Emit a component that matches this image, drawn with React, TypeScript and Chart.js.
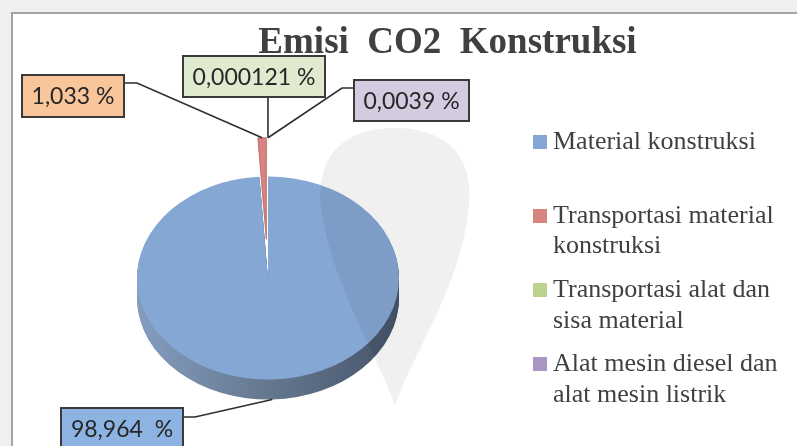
import React, { useEffect, useRef } from "react";
import { Chart, registerables } from "chart.js";

Chart.register(...registerables);

// ---------- data ----------
const categories = [
  "Material konstruksi",
  "Transportasi material konstruksi",
  "Transportasi alat dan sisa material",
  "Alat mesin diesel dan alat mesin listrik",
];
const legendLines = [
  ["Material konstruksi"],
  ["Transportasi material", "konstruksi"],
  ["Transportasi alat dan", "sisa material"],
  ["Alat mesin diesel dan", "alat mesin listrik"],
];
const values = [98.964, 1.033, 0.000121, 0.0039];
const titleText = "Emisi  CO2  Konstruksi";

// ---------- styles ----------
const sliceColors = ["#85a7d4", "#d7837f", "#bcd28f", "#a896c4"];
const sliceBorders = ["#85a7d4", "#b86a67", "#bcd28f", "#a896c4"];
const sliceBorderWidths = [0, 1, 0, 0];
const labelFills = ["#8db3e2", "#f9c59a", "#e0eacf", "#d3cce0"];
const explode = [0, 50, 50, 50];

const fmt = (v: number, i: number) =>
  String(v).replace(".", ",") + (i === 0 ? "  %" : " %");

const W = 797;
const H = 446;
const CX = 268;
const CY = 278;
const R = 131;
const TILT = 0.775;
const DEPTH = 20;

const labelBoxes = [
  { x: 61, y: 408, w: 122, h: 42 },
  { x: 22, y: 75, w: 102, h: 42 },
  { x: 183, y: 56, w: 142, h: 41 },
  { x: 354, y: 80, w: 115, h: 41 },
];
const leaderStart: (number[] | null)[] = [[183, 417], [124, 83], null, [354, 88]];
const leaderElbow: (number[] | null)[] = [[195, 417], [137, 83], null, [342, 88]];

function tilt(ctx: CanvasRenderingContext2D, x: number, y: number) {
  ctx.translate(x, y);
  ctx.scale(1, TILT);
  ctx.translate(-x, -y);
}

function anchorOf(chart: any, i: number) {
  const els: any[] = chart.getDatasetMeta(0).data;
  const el = els[i];
  const cy = els[0].y;
  const mid = (el.startAngle + el.endAngle) / 2;
  const ax = el.x + Math.cos(mid) * el.outerRadius;
  const uy = el.y + Math.sin(mid) * el.outerRadius;
  let ay = cy + (uy - cy) * TILT;
  if (Math.sin(mid) > 0) ay += DEPTH;
  return [ax, ay];
}

const pie3d = {
  id: "pie3d",
  afterDatasetsUpdate(chart: any) {
    const els: any[] = chart.getDatasetMeta(0).data;
    els.forEach((el, i) => {
      if (!explode[i]) return;
      const mid = (el.startAngle + el.endAngle) / 2;
      el.x += Math.cos(mid) * explode[i];
      el.y += Math.sin(mid) * explode[i];
    });
  },
  beforeDraw(chart: any) {
    const ctx: CanvasRenderingContext2D = chart.ctx;
    ctx.save();
    ctx.fillStyle = "#efefef";
    ctx.fillRect(0, 0, W, H);
    ctx.fillStyle = "#ffffff";
    ctx.fillRect(12, 13, W, H);
    ctx.strokeStyle = "#a3a3a3";
    ctx.lineWidth = 2;
    ctx.beginPath();
    ctx.moveTo(12, H + 5);
    ctx.lineTo(12, 13);
    ctx.lineTo(W + 5, 13);
    ctx.stroke();
    ctx.restore();
  },
  beforeDatasetsDraw(chart: any) {
    // side wall of the tilted pie (main slice)
    const ctx: CanvasRenderingContext2D = chart.ctx;
    const els: any[] = chart.getDatasetMeta(0).data;
    const el = els[0];
    const x0 = el.x;
    const y0 = el.y;
    const r0 = el.outerRadius;
    const grad = ctx.createLinearGradient(x0 - r0, 0, x0 + r0, 0);
    grad.addColorStop(0, "#849dc0");
    grad.addColorStop(0.45, "#687b93");
    grad.addColorStop(1, "#46546a");
    for (let dy = DEPTH; dy >= 1; dy--) {
      ctx.save();
      ctx.translate(0, dy);
      tilt(ctx, x0, y0);
      const o = el.options;
      el.options = Object.assign({}, o, { backgroundColor: grad, borderWidth: 0 });
      el.draw(ctx);
      el.options = o;
      ctx.restore();
    }
  },
  beforeDatasetDraw(chart: any) {
    const els: any[] = chart.getDatasetMeta(0).data;
    chart.ctx.save();
    tilt(chart.ctx, els[0].x, els[0].y);
  },
  afterDatasetDraw(chart: any) {
    chart.ctx.restore();
  },
  afterDatasetsDraw(chart: any) {
    // faint watermark drop
    const ctx: CanvasRenderingContext2D = chart.ctx;
    ctx.save();
    ctx.fillStyle = "rgba(0,0,0,0.06)";
    ctx.beginPath();
    ctx.moveTo(395, 405);
    ctx.bezierCurveTo(375, 350, 335, 290, 322, 215);
    ctx.bezierCurveTo(312, 150, 350, 128, 395, 128);
    ctx.bezierCurveTo(440, 128, 478, 150, 468, 215);
    ctx.bezierCurveTo(458, 290, 415, 350, 395, 405);
    ctx.closePath();
    ctx.fill();
    ctx.restore();
  },
  afterDraw(chart: any) {
    const ctx: CanvasRenderingContext2D = chart.ctx;
    ctx.save();
    // title
    ctx.fillStyle = "#404040";
    ctx.font = "bold 37px 'Liberation Serif', 'Times New Roman', serif";
    ctx.textAlign = "center";
    ctx.textBaseline = "alphabetic";
    ctx.fillText(titleText, 447.5, 53);

    // legend
    const baselines = [[149], [223, 253], [297, 328], [371, 402]];
    ctx.font = "26px 'Liberation Serif', 'Times New Roman', serif";
    ctx.textAlign = "left";
    categories.forEach((_c, i) => {
      const b = baselines[i];
      ctx.fillStyle = sliceColors[i];
      ctx.fillRect(533, b[0] - 14, 14, 14);
      ctx.fillStyle = "#404040";
      legendLines[i].forEach((ln, j) => ctx.fillText(ln, 553, b[j]));
    });

    // data labels with leader lines
    ctx.strokeStyle = "#2e2e2e";
    ctx.lineWidth = 1.6;
    values.forEach((_v, i) => {
      const [ax, ay] = anchorOf(chart, i);
      const bx = labelBoxes[i];
      ctx.beginPath();
      const s = leaderStart[i];
      const e = leaderElbow[i];
      if (s && e) {
        ctx.moveTo(s[0], s[1]);
        ctx.lineTo(e[0], e[1]);
      } else {
        ctx.moveTo(ax, bx.y + bx.h);
      }
      ctx.lineTo(ax, ay);
      ctx.stroke();
    });
    values.forEach((v, i) => {
      const bx = labelBoxes[i];
      ctx.fillStyle = labelFills[i];
      ctx.fillRect(bx.x, bx.y, bx.w, bx.h);
      ctx.strokeStyle = "#3a3a3a";
      ctx.lineWidth = 2;
      ctx.strokeRect(bx.x, bx.y, bx.w, bx.h);
      ctx.fillStyle = "#262626";
      ctx.font = "23px Lato, 'Open Sans', sans-serif";
      ctx.textAlign = "center";
      ctx.textBaseline = "middle";
      ctx.fillText(fmt(v, i), bx.x + bx.w / 2, bx.y + bx.h / 2 + 1);
    });
    ctx.restore();
  },
};

export default function App() {
  const ref = useRef<HTMLCanvasElement | null>(null);
  useEffect(() => {
    document.body.style.margin = "0";
    const canvas = ref.current!;
    const chart = new Chart(canvas, {
      type: "pie",
      data: {
        labels: categories,
        datasets: [
          {
            data: values,
            backgroundColor: sliceColors,
            borderColor: sliceBorders,
            borderWidth: sliceBorderWidths,
            hoverOffset: 0,
            clip: false as any,
          },
        ],
      },
      options: {
        responsive: false,
        animation: false,
        events: [],
        radius: R,
        layout: {
          padding: { left: 0, right: W - CX * 2, top: CY * 2 - H, bottom: 0 },
        },
        plugins: {
          legend: { display: false },
          tooltip: { enabled: false },
          title: { display: false },
        },
      } as any,
      plugins: [pie3d],
    });
    return () => chart.destroy();
  }, []);
  return (
    <div style={{ width: W, height: H, overflow: "hidden" }}>
      <canvas ref={ref} width={W} height={H} style={{ display: "block" }} />
    </div>
  );
}
